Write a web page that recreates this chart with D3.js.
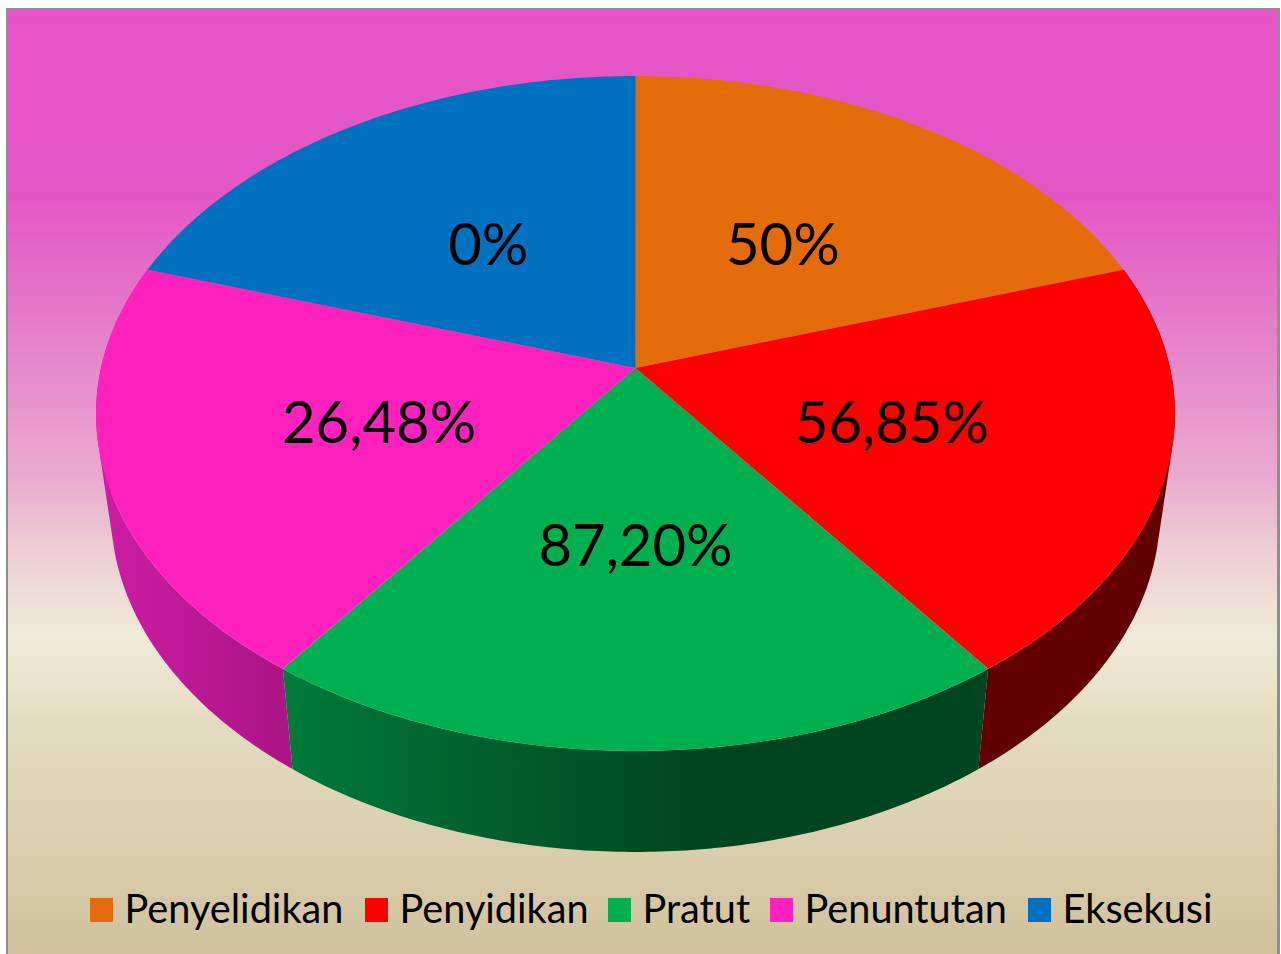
<!DOCTYPE html>
<html><head><meta charset="utf-8">
<script src="https://cdnjs.cloudflare.com/ajax/libs/d3/7.8.5/d3.min.js"></script>
<style>html,body{margin:0;padding:0;background:#fff}svg{display:block}text{font-family:Lato,sans-serif;fill:#000}</style>
</head><body><svg id="c" width="1281" height="954"></svg>
<script>
const categories = ["Penyelidikan","Penyidikan","Pratut","Penuntutan","Eksekusi"];
const sliceShares = [1,1,1,1,1];
const valueLabels = ["50%","56,85%","87,20%","26,48%","0%"];
const topColors = ["#E46C0A","#FF0000","#00B050","#FF21BE","#0070C0"];
const sideLeft = ["#5a2b04","#600000","#007A3A","#CF1DA5","#003a66"];
const sideRight = ["#5a2b04","#600000","#004520","#AB1585","#003a66"];
const legendX = [90,365,608,770,1028];

const svg = d3.select("#c");
const defs = svg.append("defs");
const bg = defs.append("linearGradient").attr("id","bg").attr("x1",0).attr("y1",0).attr("x2",0).attr("y2",1);
[[0,"#E655C6"],[0.2,"#E357C5"],[0.4,"#E690CB"],[0.5,"#E9ACCF"],[0.57,"#ECCDD3"],[0.62,"#EEDDD6"],[0.665,"#F0EBD8"],[0.76,"#E4DCC0"],[1,"#D1C19D"]]
  .forEach(s=>bg.append("stop").attr("offset",s[0]).attr("stop-color",s[1]));
svg.append("rect").attr("x",6).attr("y",8).attr("width",1274).attr("height",946).attr("fill","#8e8e8e");
svg.append("rect").attr("x",8).attr("y",10).attr("width",1269).attr("height",944).attr("fill","url(#bg)");

const C = -0.1348;
const project = (a,r,plane) => {
  const x = r*Math.sin(a), y = -r*Math.cos(a), d = 1+C*y;
  return plane==="top"
    ? [635.5+534.5*x/d, (281.7*y+368)/d]
    : [635.5+519.8*x/d, (271.8*y+465.3)/d];
};
const pie = d3.pie().sort(null)(sliceShares);
const line = d3.line();
const arcPts = (s,e,plane) => d3.range(0,121).map(i=>project(s+(e-s)*i/120,1,plane));

pie.forEach((p,i)=>{
  const g = defs.append("linearGradient").attr("id","side"+i).attr("gradientUnits","userSpaceOnUse");
  const xs = arcPts(p.startAngle,p.endAngle,"top").map(d=>d[0]);
  g.attr("x1",d3.min(xs)).attr("x2",i===2?690:d3.max(xs)).attr("y1",0).attr("y2",0);
  g.append("stop").attr("offset",0).attr("stop-color",sideLeft[i]);
  g.append("stop").attr("offset",1).attr("stop-color",sideRight[i]);
});
// side walls: one consistently wound quad per arc step, so the wall's outline follows its rulings
[3,1,2].forEach(i=>{
  const p = pie[i];
  const up = arcPts(p.startAngle,p.endAngle,"top");
  const lo = arcPts(p.startAngle,p.endAngle,"bottom");
  const d = d3.range(up.length-1).map(k=>{
    const q = [up[k],up[k+1],lo[k+1],lo[k]];
    if (d3.polygonArea(q)<0) q.reverse();
    return line(q)+"Z";
  }).join("");
  svg.append("path").attr("d",d).attr("fill",`url(#side${i})`);
});
// top face
svg.selectAll("path.top").data(pie).join("path").attr("class","top")
  .attr("d",p=>line([project(0,0,"top")].concat(arcPts(p.startAngle,p.endAngle,"top")))+"Z")
  .attr("fill",(p,i)=>topColors[i]);
// value labels
svg.selectAll("text.v").data(pie).join("text").attr("class","v")
  .attr("x",p=>project((p.startAngle+p.endAngle)/2,.494,"top")[0])
  .attr("y",p=>project((p.startAngle+p.endAngle)/2,.494,"top")[1]+23)
  .attr("text-anchor","middle").attr("font-size",58)
  .text((p,i)=>valueLabels[i]);
// legend
categories.forEach((c,i)=>{
  svg.append("rect").attr("x",legendX[i]).attr("y",898).attr("width",23).attr("height",24).attr("fill",topColors[i]);
  svg.append("text").attr("x",legendX[i]+34.5).attr("y",923).attr("font-size",39.7).text(c);
});
</script></body></html>
